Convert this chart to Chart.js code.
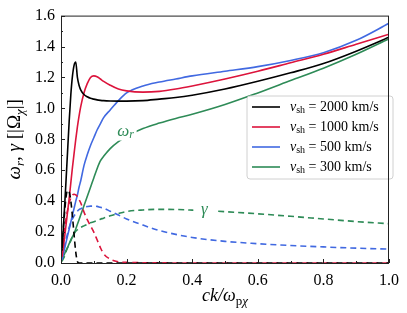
<!DOCTYPE html>
<html>
<head>
<meta charset="utf-8">
<script src="https://cdn.jsdelivr.net/npm/chart.js@4.4.0/dist/chart.umd.min.js"></script>
<style>
  html, body { margin: 0; padding: 0; background: #fff; }
  #wrap { width: 407px; height: 313px; }
</style>
</head>
<body>
<div id="wrap"><canvas id="myChart"></canvas></div>
<script>
/* data */
const kValues = [0.003, 0.005, 0.01, 0.015, 0.02, 0.025, 0.03, 0.035, 0.04, 0.045, 0.05, 0.055, 0.06, 0.07, 0.08, 0.09, 0.1, 0.11, 0.12, 0.13, 0.15, 0.175, 0.2, 0.25, 0.3, 0.35, 0.4, 0.5, 0.6, 0.7, 0.8, 0.9, 1.0];

// omega_r
const wr2000 = [0.08, 0.15, 0.33, 0.52, 0.72, 0.92, 1.09, 1.21, 1.28, 1.30, 1.20, 1.15, 1.12, 1.09, 1.075, 1.065, 1.06, 1.055, 1.052, 1.05, 1.048, 1.047, 1.047, 1.05, 1.06, 1.07, 1.085, 1.125, 1.175, 1.23, 1.29, 1.37, 1.46];
const wr1000 = [0.04, 0.07, 0.15, 0.24, 0.33, 0.42, 0.52, 0.62, 0.71, 0.80, 0.88, 0.95, 1.01, 1.10, 1.16, 1.20, 1.21, 1.205, 1.19, 1.175, 1.15, 1.125, 1.113, 1.105, 1.11, 1.125, 1.145, 1.19, 1.24, 1.295, 1.35, 1.415, 1.48];
const wr500 = [0.02, 0.04, 0.085, 0.13, 0.175, 0.22, 0.265, 0.31, 0.355, 0.40, 0.44, 0.49, 0.53, 0.63, 0.70, 0.76, 0.81, 0.86, 0.90, 0.94, 0.99, 1.05, 1.10, 1.145, 1.17, 1.19, 1.21, 1.24, 1.27, 1.31, 1.36, 1.44, 1.55];
const wr300 = [0.02, 0.03, 0.055, 0.08, 0.10, 0.125, 0.145, 0.17, 0.19, 0.22, 0.25, 0.28, 0.31, 0.37, 0.43, 0.49, 0.55, 0.61, 0.66, 0.69, 0.74, 0.785, 0.82, 0.87, 0.905, 0.935, 0.962, 1.025, 1.10, 1.18, 1.26, 1.35, 1.45];

// gamma
const gam2000 = [0.10, 0.16, 0.30, 0.42, 0.47, 0.46, 0.40, 0.30, 0.18, 0.07, 0.01, 0, 0, 0, 0, 0, 0, 0, 0, 0, 0, 0, 0, 0, 0, 0, 0, 0, 0, 0, 0, 0, 0];
const gam1000 = [0.06, 0.10, 0.20, 0.28, 0.34, 0.39, 0.42, 0.44, 0.445, 0.44, 0.43, 0.41, 0.39, 0.33, 0.28, 0.24, 0.20, 0.15, 0.10, 0.06, 0.025, 0.008, 0.004, 0.002, 0.001, 0, 0, 0, 0, 0, 0, 0, 0];
const gam500 = [0.03, 0.05, 0.10, 0.15, 0.19, 0.23, 0.26, 0.285, 0.305, 0.32, 0.335, 0.345, 0.35, 0.36, 0.365, 0.368, 0.368, 0.366, 0.36, 0.355, 0.335, 0.31, 0.285, 0.245, 0.21, 0.185, 0.165, 0.14, 0.125, 0.113, 0.104, 0.096, 0.09];
const gam300 = [0.01, 0.02, 0.04, 0.07, 0.10, 0.125, 0.15, 0.17, 0.19, 0.205, 0.215, 0.225, 0.23, 0.24, 0.25, 0.26, 0.267, 0.275, 0.283, 0.29, 0.305, 0.32, 0.333, 0.343, 0.347, 0.346, 0.342, 0.332, 0.318, 0.302, 0.285, 0.268, 0.254];

const speeds = ['2000', '1000', '500', '300'];
const colors = ['#000000', '#dc143c', '#4169e1', '#2e8b57'];
const xTicks = [0, 0.2, 0.4, 0.6, 0.8, 1.0];
const yTicks = [0, 0.2, 0.4, 0.6, 0.8, 1.0, 1.2, 1.4, 1.6];

const SERIF = '"Liberation Serif", "DejaVu Serif", serif';

function pts(arr) {
  return kValues.map((k, i) => ({ x: k, y: arr[i] }));
}

const wrAll = [wr2000, wr1000, wr500, wr300];
const gamAll = [gam2000, gam1000, gam500, gam300];
const datasets = [];
for (let i = 0; i < 4; i++) {
  datasets.push({
    label: 'wr' + speeds[i], data: pts(wrAll[i]),
    borderColor: colors[i], borderWidth: 1.6, pointRadius: 0,
    cubicInterpolationMode: 'monotone', fill: false
  });
  datasets.push({
    label: 'gam' + speeds[i], data: pts(gamAll[i]),
    borderColor: colors[i], borderWidth: 1.6, pointRadius: 0, borderDash: [6, 4],
    cubicInterpolationMode: 'monotone', fill: false
  });
}

// draw a run of text pieces (for subscripts), left aligned at x
function richWidth(ctx, parts) {
  let w = 0;
  parts.forEach(p => { ctx.font = p.font; w += ctx.measureText(p.t).width; });
  return w;
}
function drawRich(ctx, parts, x, y) {
  parts.forEach(p => {
    ctx.font = p.font;
    ctx.fillText(p.t, x, y + (p.dy || 0));
    x += ctx.measureText(p.t).width;
  });
}

const extras = {
  id: 'extras',
  afterDatasetsDraw(chart) {
    const { ctx, scales: { x, y } } = chart;
    ctx.save();
    ctx.textBaseline = 'middle';
    // in-line curve labels
    const labs = [
      { t: 'ω', sub: 'r', k: 0.197, v: 0.85 },
      { t: 'γ', sub: '', k: 0.437, v: 0.345 }
    ];
    labs.forEach(l => {
      const px = x.getPixelForValue(l.k), py = y.getPixelForValue(l.v);
      ctx.fillStyle = '#fff';
      ctx.fillRect(px - 11, py - 9, 22, 18);
      ctx.fillStyle = colors[3];
      ctx.textAlign = 'left';
      const parts = [{ t: l.t, font: 'italic 17px ' + SERIF }];
      if (l.sub) parts.push({ t: l.sub, font: 'italic 12px ' + SERIF, dy: 3 });
      const w = richWidth(ctx, parts);
      drawRich(ctx, parts, px - w / 2, py);
    });

    // legend
    const bx = 247, by = 96, bw = 146, bh = 83;
    ctx.beginPath();
    ctx.roundRect(bx, by, bw, bh, 3);
    ctx.fillStyle = 'rgba(255,255,255,0.8)';
    ctx.fill();
    ctx.strokeStyle = '#d0d0d0';
    ctx.lineWidth = 1;
    ctx.stroke();
    ctx.textAlign = 'left';
    for (let i = 0; i < 4; i++) {
      const ry = 107 + i * 20;
      ctx.strokeStyle = colors[i];
      ctx.lineWidth = 1.6;
      ctx.beginPath();
      ctx.moveTo(252, ry);
      ctx.lineTo(280, ry);
      ctx.stroke();
      ctx.fillStyle = '#000';
      drawRich(ctx, [
        { t: 'v', font: 'italic 14px ' + SERIF },
        { t: 'sh', font: '10px ' + SERIF, dy: 3 },
        { t: ' = ' + speeds[i] + ' km/s', font: '14px ' + SERIF }
      ], 290, ry);
    }
    ctx.restore();
  },
  afterDraw(chart) {
    const { ctx, chartArea: a, scales: { x, y } } = chart;
    ctx.save();
    // frame
    ctx.strokeStyle = '#222';
    ctx.lineWidth = 1;
    ctx.strokeRect(a.left + 0.5, a.top + 0.5, a.right - a.left - 1, a.bottom - a.top);
    // inward ticks
    ctx.beginPath();
    for (let v = 0; v <= 1.6001; v += 0.1) {
      const py = Math.round(y.getPixelForValue(v)) + 0.5;
      const major = Math.abs(v / 0.2 - Math.round(v / 0.2)) < 1e-6;
      ctx.moveTo(a.left, py);
      ctx.lineTo(a.left + (major ? 4 : 2), py);
    }
    for (let v = 0; v <= 1.0001; v += 0.1) {
      const px = Math.round(x.getPixelForValue(v)) + 0.5;
      const major = Math.abs(v / 0.2 - Math.round(v / 0.2)) < 1e-6;
      ctx.moveTo(px, a.bottom);
      ctx.lineTo(px, a.bottom - (major ? 4 : 2));
    }
    ctx.stroke();

    // axis titles
    ctx.fillStyle = '#000';
    ctx.textBaseline = 'alphabetic';
    ctx.textAlign = 'left';
    const xt = [
      { t: 'ck/ω', font: 'italic 18px ' + SERIF },
      { t: 'p', font: '13px ' + SERIF, dy: 4 },
      { t: 'χ', font: 'italic 13px ' + SERIF, dy: 4 }
    ];
    const xw = richWidth(ctx, xt);
    drawRich(ctx, xt, (a.left + a.right) / 2 - xw / 2, 301);

    const yt = [
      { t: 'ω', font: 'italic 19px ' + SERIF },
      { t: 'r', font: 'italic 13px ' + SERIF, dy: 4 },
      { t: ', ', font: '19px ' + SERIF },
      { t: 'γ', font: 'italic 19px ' + SERIF },
      { t: ' [|Ω', font: '19px ' + SERIF },
      { t: 'χ', font: 'italic 13px ' + SERIF, dy: 4 },
      { t: '|]', font: '19px ' + SERIF }
    ];
    const yw = richWidth(ctx, yt);
    ctx.translate(20, (a.top + a.bottom) / 2);
    ctx.rotate(-Math.PI / 2);
    drawRich(ctx, yt, -yw / 2, 0);
    ctx.restore();
  }
};

const ctx = document.getElementById('myChart');
const myChart = new Chart(ctx, {
  type: 'line',
  data: { datasets: datasets },
  options: {
    responsive: true,
    maintainAspectRatio: false,
    animation: false,
    layout: { padding: { top: 13, right: 11, left: 0, bottom: 0 } },
    plugins: { legend: { display: false }, tooltip: { enabled: false } },
    scales: {
      x: {
        type: 'linear', min: 0, max: 1,
        afterBuildTicks: s => { s.ticks = xTicks.map(v => ({ value: v })); },
        afterFit: s => { s.height = 50; },
        grid: { display: false, drawTicks: false },
        border: { display: false },
        ticks: {
          padding: 8, color: '#000', maxRotation: 0,
          font: { family: SERIF, size: 16 },
          callback: v => v.toFixed(1)
        }
      },
      y: {
        type: 'linear', min: 0, max: 1.6,
        afterBuildTicks: s => { s.ticks = yTicks.map(v => ({ value: v })); },
        afterFit: s => { s.width = 61; },
        grid: { display: false, drawTicks: false },
        border: { display: false },
        ticks: {
          padding: 6, color: '#000',
          font: { family: SERIF, size: 16 },
          callback: v => v.toFixed(1)
        }
      }
    }
  },
  plugins: [extras]
});
</script>
</body>
</html>
